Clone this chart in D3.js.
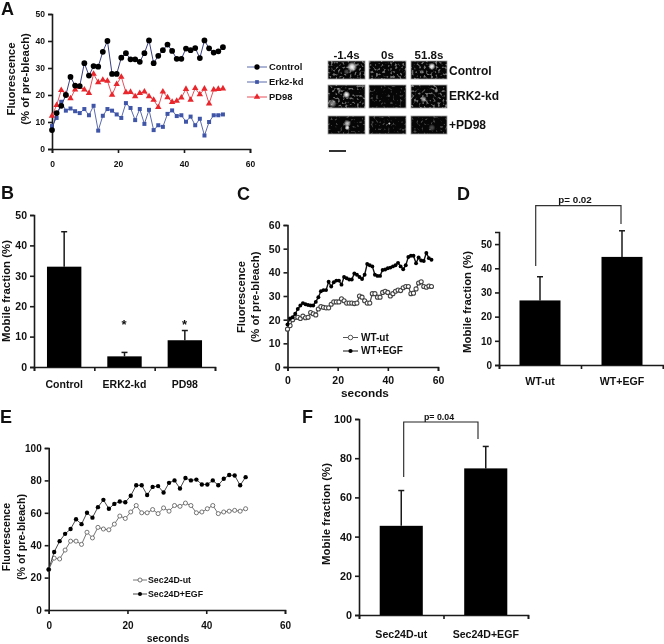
<!DOCTYPE html>
<html><head><meta charset="utf-8">
<script src="https://cdn.jsdelivr.net/npm/d3@7"></script>
<style>html,body{margin:0;padding:0;background:#fff}svg{display:block;filter:blur(.35px)}text{font-family:"Liberation Sans",Arial,sans-serif;font-weight:bold;fill:#111}</style>
</head><body><svg id="c" width="664" height="644"></svg>
<script>
const aControl=[7,13.3,16,20,26.7,23.5,23.3,31.8,27.2,30.7,30.5,36,40,27.8,27.8,33.8,35.5,33.2,33.2,32.3,35.5,40.2,31.8,34.5,36.6,38.7,36.3,33.4,33.4,37.2,36.6,37.4,33.7,40.2,37.3,35.7,36.2,37.7];
const aErk=[8.5,11.5,17.5,14.2,15,14,13.3,14.8,12.5,16,6.8,12.3,14.8,14.2,12.8,11.5,17,15.2,10.7,14.8,9.3,14.5,7,8.8,8.2,13,14.3,12.2,12.5,10.1,12,8.8,11.2,5,10,12.5,12.5,12.8];
const aPD=[12.3,16.2,21.8,20.3,18.7,22,23,22,20.7,27.8,24.7,25.6,25.2,20,24,26.7,21,21.1,19.5,20.7,21.2,19.5,18.2,15.5,21.2,19.1,17.4,17.8,19,22.2,18.2,22.5,20.2,22.3,16.8,22,22.2,22.4];
const cEgf=[18,20.5,21,22.5,24.5,26,27,26.5,26.2,26,26,27.5,29.5,32,32.5,32.5,36,34,35.8,36.5,36.5,34.8,38,37.5,37,37,39.5,39,38,37.2,39,43.5,43,42.5,39,38.5,38.5,41,41.2,41.7,42,42.5,43,44,42.5,41.3,43,46.5,47,47,43.8,46.3,45,44.8,48.2,46,45.3];
const cUt=[16,17.5,20,21,21,20.5,21.5,20.8,21,23,22.5,22,24.5,25.5,25.2,25,25,26.5,27.5,27.5,27.5,28.8,28,27,27,27,26.8,27,30,29.5,28,27,27,31,31,29.5,29.5,31.5,32,31.5,30,31,32,32.5,32.3,33.5,34,34,31,31.2,33,35.5,36,34,33.7,34.2,34];
const eEgf=[25,35.8,42.5,47,50,56,53,60,57,63.5,68,62.5,65.5,67,66.5,70.5,77,77,71,76,76.5,72.5,78.5,80,75,81.5,80,80.5,77.5,77.5,80,77,81,83.3,83,77,82];
const eUt=[25,32,31.5,37,42.5,42.5,40.5,48,44.5,51,50,49.5,53,58,56.5,60.5,64.5,60,60,62,59.5,63,61,64.5,64,66,64.5,60,60.5,62.5,64.5,59.5,60.5,61,61.5,61,62.5];
const bCats=["Control","ERK2-kd","PD98"],bVals=[33,3.5,8.8],bErr=[44.5,4.8,12];
const dCats=["WT-ut","WT+EGF"],dVals=[26.7,44.7],dErr=[36.5,55.5];
const fCats=["Sec24D-ut","Sec24D+EGF"],fVals=[45.5,74.8],fErr=[63.5,86];
const stepA=1.4,stepC=57.4/56,stepE=50/36;
const micrographTimes=["-1.4s","0s","51.8s"],micrographRows=["Control","ERK2-kd","+PD98"];

const svg=d3.select("#c"),axisCol="#1a1a1a";
const defs=svg.append("defs");
const grad=defs.append("radialGradient").attr("id","spot");
grad.append("stop").attr("offset","0").attr("stop-color","#fff").attr("stop-opacity",1);
grad.append("stop").attr("offset",".45").attr("stop-color","#fff").attr("stop-opacity",.75);
grad.append("stop").attr("offset","1").attr("stop-color","#fff").attr("stop-opacity",0);
const turb=(id,seed,slope,cut)=>{const f=defs.append("filter").attr("id",id).attr("x",0).attr("y",0).attr("width",1).attr("height",1);
 f.append("feTurbulence").attr("type","fractalNoise").attr("baseFrequency",0.42).attr("numOctaves",1).attr("seed",seed);
 f.append("feColorMatrix").attr("type","matrix").attr("values",`0 0 0 0 1 0 0 0 0 1 0 0 0 0 1 ${slope} 0 0 0 ${-slope*cut}`);};
turb("nA",3,7,.58);turb("nB",8,6,.53);

function axes(o){
 const x=d3.scaleLinear().domain(o.xd).range([o.x0,o.x1]),y=d3.scaleLinear().domain(o.yd).range([o.y0,o.y1]);
 const g=svg.append("g");
 const ax=d3.axisBottom(x).tickValues(o.xt).tickSize(4).tickFormat(o.xf||d3.format("d"));
 const ay=d3.axisLeft(y).tickValues(o.yt).tickSize(4).tickFormat(d3.format("d"));
 const gx=g.append("g").attr("transform",`translate(0,${o.y0})`).call(ax);
 const gy=g.append("g").attr("transform",`translate(${o.x0},0)`).call(ay);
 [gx,gy].forEach(s=>{s.selectAll("path,line").attr("stroke",axisCol).attr("stroke-width",o.sw||1.6);s.selectAll("text").attr("font-size",o.fs||9.5).style("font-family",'"Liberation Sans"').style("font-weight","bold").attr("fill","#111");});
 gx.selectAll("text").attr("dy",o.xdy||"0.9em");
 return {x,y,g:svg.append("g")};
}
function ylab(bx,cy,lines,fs,lh){const t=svg.append("text").attr("transform",`translate(${bx},${cy}) rotate(-90)`).attr("text-anchor","middle").attr("font-size",fs);
 lines.forEach((l,i)=>t.append("tspan").attr("x",0).attr("dy",i?lh:0).text(l));}
const lab=(x,y,s,fs,a)=>svg.append("text").attr("x",x).attr("y",y).attr("font-size",fs).attr("text-anchor",a||"start").text(s);
const sym=(t,s)=>d3.symbol().type(t).size(s)();
function series(p,vals,step,line,lw,m){
 const pts=vals.map((v,i)=>[p.x(i*step),p.y(v)]);
 p.g.append("path").attr("d",d3.line()(pts)).attr("fill","none").attr("stroke",line).attr("stroke-width",lw);
 p.g.selectAll(null).data(pts).join("path").attr("transform",d=>`translate(${d})`).attr("d",sym(m.t,m.s)).attr("fill",m.f).attr("stroke",m.st||"none").attr("stroke-width",m.sw||0);
}
function legendItem(x0,x1,y,line,lw,m,txt,tx,fs){
 svg.append("line").attr("x1",x0).attr("x2",x1).attr("y1",y).attr("y2",y).attr("stroke",line).attr("stroke-width",lw);
 svg.append("path").attr("transform",`translate(${(x0+x1)/2},${y})`).attr("d",sym(m.t,m.s)).attr("fill",m.f).attr("stroke",m.st||"none").attr("stroke-width",m.sw||0);
 lab(tx,y+3.3,txt,fs);
}
function bars(o){
 const p=axes({xd:[0,o.cats.length],yd:o.yd,x0:o.x0,x1:o.x1,y0:o.y0,y1:o.y1,xt:d3.range(o.cats.length+1),xf:()=>"",yt:o.yt,fs:o.fs,sw:1.6});
 const bw=(o.x1-o.x0)/o.cats.length;
 o.vals.forEach((v,i)=>{
  const cx=p.x(i+.5);
  p.g.append("line").attr("x1",cx).attr("x2",cx).attr("y1",p.y(v)).attr("y2",p.y(o.err[i])).attr("stroke",axisCol).attr("stroke-width",1.5);
  p.g.append("line").attr("x1",cx-3).attr("x2",cx+3).attr("y1",p.y(o.err[i])).attr("y2",p.y(o.err[i])).attr("stroke",axisCol).attr("stroke-width",1.5);
  p.g.append("rect").attr("x",cx-bw*o.wf/2).attr("width",bw*o.wf).attr("y",p.y(v)).attr("height",p.y(0)-p.y(v)).attr("fill","#000");
  lab(cx,o.y0+o.ldy,o.cats[i],o.lfs,"middle");
 });
 return p;
}
// Panel A
const cB="#3f55a8",cR="#e8262c";
const pA=axes({xd:[0,60],yd:[0,50],x0:52,x1:250,y0:149,y1:14,xt:[0,20,40,60],yt:[0,10,20,30,40,50],fs:8.5,xdy:"1.3em"});
series(pA,aPD,stepA,"#e8505a",1,{t:d3.symbolTriangle,s:18,f:cR});
series(pA,aErk,stepA,"#5a6aae",1,{t:d3.symbolSquare,s:16,f:cB});
series(pA,aControl,stepA,"#3a3f80",1,{t:d3.symbolCircle,s:26,f:"#000"});
ylab(15,79,["Fluorescence","(% of pre-bleach)"],11.3,14);
legendItem(247,267,67,"#5a6aae",1,{t:d3.symbolCircle,s:22,f:"#000"},"Control",269,9.4);
legendItem(247,267,82,"#5a6aae",1,{t:d3.symbolSquare,s:14,f:cB},"Erk2-kd",269,9.4);
legendItem(247,267,97,"#e8505a",1,{t:d3.symbolTriangle,s:18,f:cR},"PD98",269,9.4);
// Micrographs
const colX=[[328,365],[369,406],[411,447]],rowY=[[61,79],[85,108],[116,134]];
const spots=[[[[.65,.33,.14,1],[.5,.6,.08,.3]],[],[[.58,.3,.1,1],[.3,.6,.07,.35]]],
 [[[.5,.42,.1,1],[.12,.8,.12,.55],[.3,.2,.06,.4]],[],[[.35,.62,.09,.7],[.7,.25,.06,.6]]],
 [[[.52,.42,.1,.8],[.52,.65,.07,1]],[[.55,.42,.04,.9]],[[.58,.65,.1,.3]]]];
rowY.forEach((r,ri)=>colX.forEach((c,ci)=>{
 svg.append("rect").attr("x",c[0]).attr("y",r[0]).attr("width",c[1]-c[0]).attr("height",r[1]-r[0]).attr("fill","#060606").attr("stroke","#a0a0a0").attr("stroke-width",.8);
 const dim=ri===2||(ri===1&&ci===1);
 svg.append("rect").attr("x",c[0]).attr("y",r[0]).attr("width",c[1]-c[0]).attr("height",r[1]-r[0]).attr("fill","#fff").attr("opacity",dim?.25:.42).attr("filter",`url(#${dim?"nA":"nB"})`);
 spots[ri][ci].forEach(s=>svg.append("circle").attr("cx",c[0]+s[0]*(c[1]-c[0])).attr("cy",r[0]+s[1]*(r[1]-r[0])).attr("r",s[2]*(c[1]-c[0])).attr("fill","url(#spot)").attr("opacity",s[3]));
}));
micrographTimes.forEach((t,i)=>lab((colX[i][0]+colX[i][1])/2,59,t,11.5,"middle"));
micrographRows.forEach((t,i)=>lab(449,[75,100,129][i],t,12));
svg.append("line").attr("x1",329).attr("x2",346).attr("y1",151).attr("y2",151).attr("stroke","#000").attr("stroke-width",1.6);
// Panel B
bars({cats:bCats,vals:bVals,err:bErr,yd:[0,50],x0:34,x1:215,y0:367,y1:215,yt:[0,10,20,30,40,50],wf:.57,fs:10.5,lfs:10.5,ldy:21});
lab(124,329,"*",13,"middle");lab(184.5,329,"*",13,"middle");
ylab(9.5,291,["Mobile fraction (%)"],11.4,13);
// Panel C
const pC=axes({xd:[0,60],yd:[0,60],x0:287.5,x1:438,y0:367,y1:225,xt:[0,20,40,60],yt:[0,10,20,30,40,50,60],fs:10.5,xdy:"0.95em"});
series(pC,cUt,stepC,"#444",1.2,{t:d3.symbolCircle,s:13,f:"#fff",st:"#444",sw:1.1});
series(pC,cEgf,stepC,"#111",1.4,{t:d3.symbolCircle,s:12,f:"#000"});
ylab(245,297,["Fluorescence","(% of pre-bleach)"],11.2,14);
legendItem(343,358,337.5,"#555",1,{t:d3.symbolCircle,s:16,f:"#fff",st:"#555",sw:1},"WT-ut",361,10);
legendItem(343,358,351,"#111",1,{t:d3.symbolCircle,s:14,f:"#000"},"WT+EGF",361,10);
lab(365,397,"seconds",11.8,"middle");
// Panel D
bars({cats:dCats,vals:dVals,err:dErr,yd:[0,55],x0:499,x1:663,y0:365,y1:232,yt:[0,10,20,30,40,50],wf:.5,fs:10,lfs:10.6,ldy:20});
ylab(471,302,["Mobile fraction (%)"],11.4,13);
svg.append("path").attr("d",d3.line()([[535.7,266],[535.7,205.7],[621,205.7],[621,224]])).attr("fill","none").attr("stroke","#333").attr("stroke-width",1.2);
lab(575,203,"p= 0.02",9.8,"middle");
// Panel E
const pE=axes({xd:[0,60],yd:[0,100],x0:48.7,x1:285,y0:610,y1:448,xt:[0,20,40,60],yt:[0,20,40,60,80,100],fs:10,xdy:"1.2em"});
series(pE,eUt,stepE,"#666",.9,{t:d3.symbolCircle,s:13,f:"#fff",st:"#555",sw:.8});
series(pE,eEgf,stepE,"#333",.9,{t:d3.symbolCircle,s:15,f:"#000"});
ylab(10,537,["Fluorescence","(% of pre-bleach)"],10.6,15);
legendItem(133,147,580,"#666",.9,{t:d3.symbolCircle,s:13,f:"#fff",st:"#555",sw:.8},"Sec24D-ut",148,8.8);
legendItem(133,147,594,"#333",.9,{t:d3.symbolCircle,s:13,f:"#000"},"Sec24D+EGF",148,8.8);
lab(168,642,"seconds",10.5,"middle");
// Panel F
bars({cats:fCats,vals:fVals,err:fErr,yd:[0,100],x0:359,x1:528,y0:615,y1:419,yt:[0,20,40,60,80,100],wf:.51,fs:10.8,lfs:10.6,ldy:22.5});
ylab(330,514,["Mobile fraction (%)"],11.4,13);
svg.append("path").attr("d",d3.line()([[403.7,477],[403.7,422],[478,422],[478,439]])).attr("fill","none").attr("stroke","#222").attr("stroke-width",1.1);
lab(439,420,"p= 0.04",8.8,"middle");
// Panel letters
[["A",1,14.5],["B",1,199],["C",237,200],["D",457,200],["E",0,423],["F",302,423]].forEach(d=>lab(d[1],d[2],d[0],18));
</script></body></html>
